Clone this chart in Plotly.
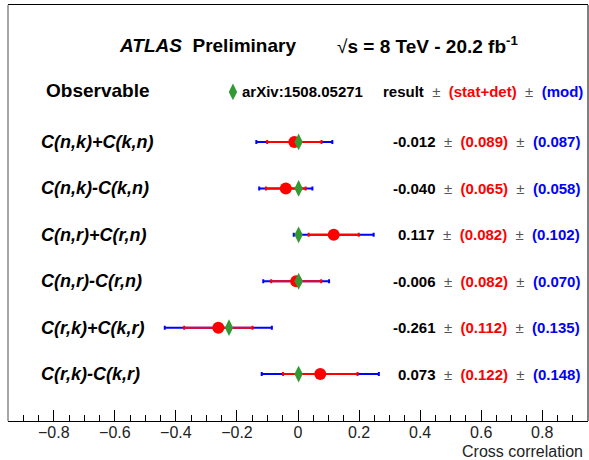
import math
import plotly.graph_objects as go

observables = ["C(n,k)+C(k,n)", "C(n,k)-C(k,n)", "C(n,r)+C(r,n)",
               "C(n,r)-C(r,n)", "C(r,k)+C(k,r)", "C(r,k)-C(k,r)"]
result = [-0.012, -0.040, 0.117, -0.006, -0.261, 0.073]
stat_det = [0.089, 0.065, 0.082, 0.082, 0.112, 0.122]
mod = [0.087, 0.058, 0.102, 0.070, 0.135, 0.148]
prediction = [0.002, 0.002, 0.002, 0.002, -0.226, 0.002]
x_ticks = [-0.8, -0.6, -0.4, -0.2, 0, 0.2, 0.4, 0.6, 0.8]

total = [math.sqrt(s * s + m * m) for s, m in zip(stat_det, mod)]
rows = list(range(len(observables)))

W, H = 589, 460
L, R, T, B = 8, 588, 5, 421
FONT = "Liberation Sans, Arial, Helvetica, sans-serif"
PM = "&nbsp;&nbsp;<span style='color:#555'>±</span>&nbsp;&nbsp;"


def px(x):
    return (x - L) / (R - L)


def py(y):
    return (B - y) / (B - T)


fig = go.Figure()
fig.add_trace(go.Scatter(
    x=result, y=rows, mode="markers",
    marker=dict(size=1, color="rgba(0,0,0,0)"),
    error_x=dict(type="data", array=total, color="#0000ff", thickness=2, width=2),
    showlegend=False, hoverinfo="skip"))
fig.add_trace(go.Scatter(
    x=result, y=rows, mode="markers",
    marker=dict(size=12, color="#ff0000", symbol="circle"),
    error_x=dict(type="data", array=stat_det, color="#ff0000", thickness=2, width=2),
    showlegend=False, hoverinfo="skip"))
fig.add_trace(go.Scatter(
    x=prediction, y=rows, mode="markers",
    marker=dict(size=12, color="#339933", symbol="diamond-tall"),
    showlegend=False, hoverinfo="skip"))
fig.add_trace(go.Scatter(
    x=[(233 - 298) / 305.0], y=[(92 - 142) / 46.4], mode="markers",
    marker=dict(size=12, color="#339933", symbol="diamond-tall"),
    showlegend=False, hoverinfo="skip", cliponaxis=False))

annotations = []
for i, name in enumerate(observables):
    annotations.append(dict(
        x=px(39), xref="paper", y=i, yref="y", xanchor="left", yanchor="middle",
        text="<b><i>%s</i></b>" % name, showarrow=False,
        font=dict(family=FONT, size=18, color="black")))
    annotations.append(dict(
        x=px(582), xref="paper", y=i, yref="y", xanchor="right", yanchor="middle",
        text=("<b>%.3f</b>" + PM + "<b><span style='color:#ff0000'>(%.3f)</span></b>"
              + PM + "<b><span style='color:#0000ff'>(%.3f)</span></b>")
        % (result[i], stat_det[i], mod[i]),
        showarrow=False, font=dict(family=FONT, size=15, color="black")))

annotations += [
    dict(x=px(117), y=py(45), xref="paper", yref="paper", xanchor="left", yanchor="middle",
         text="<b><i>ATLAS</i></b>&nbsp; <b>Preliminary</b>", showarrow=False,
         font=dict(family=FONT, size=19, color="black")),
    dict(x=px(335), y=py(45), xref="paper", yref="paper", xanchor="left", yanchor="middle",
         text="√<b>s = 8 TeV - 20.2 fb<sup>-1</sup></b>", showarrow=False,
         font=dict(family=FONT, size=19, color="black")),
    dict(x=px(44), y=py(90), xref="paper", yref="paper", xanchor="left", yanchor="middle",
         text="<b>Observable</b>", showarrow=False,
         font=dict(family=FONT, size=19, color="black")),
    dict(x=px(240), y=py(91), xref="paper", yref="paper", xanchor="left", yanchor="middle",
         text="<b>arXiv:1508.05271</b>", showarrow=False,
         font=dict(family=FONT, size=15, color="black")),
    dict(x=px(585), y=py(91), xref="paper", yref="paper", xanchor="right", yanchor="middle",
         text=("<b>result</b>" + PM + "<b><span style='color:#ff0000'>(stat+det)</span></b>"
               + PM + "<b><span style='color:#0000ff'>(mod)</span></b>"),
         showarrow=False, font=dict(family=FONT, size=15, color="black")),
    dict(x=px(585), y=py(451.5), xref="paper", yref="paper", xanchor="right", yanchor="middle",
         text="Cross correlation", showarrow=False,
         font=dict(family=FONT, size=16, color="#222")),
]

fig.update_layout(
    width=W, height=H,
    margin=dict(l=L, r=W - R, t=T, b=H - B),
    paper_bgcolor="white", plot_bgcolor="white",
    annotations=annotations,
    shapes=[
        dict(type="line", xref="paper", yref="paper", x0=0, x1=0, y0=0, y1=1,
             line=dict(color="#888", width=1.5)),
        dict(type="line", xref="paper", yref="paper", x0=1, x1=1, y0=0, y1=1,
             line=dict(color="black", width=1)),
    ],
    xaxis=dict(range=[-0.95, 0.95], tickvals=x_ticks, ticks="inside", ticklen=11,
               tickcolor="black", showline=True, linecolor="black", linewidth=1,
               mirror=True, showgrid=False, zeroline=False, ticklabelstandoff=-3,
               tickfont=dict(family=FONT, size=16, color="#222"),
               minor=dict(dtick=0.05, tick0=0, ticks="inside", ticklen=6,
                          tickcolor="black", showgrid=False)),
    yaxis=dict(range=[6.01, -2.95], showticklabels=False, showgrid=False,
               zeroline=False, showline=False, ticks=""),
)

fig.write_html("out.html")
